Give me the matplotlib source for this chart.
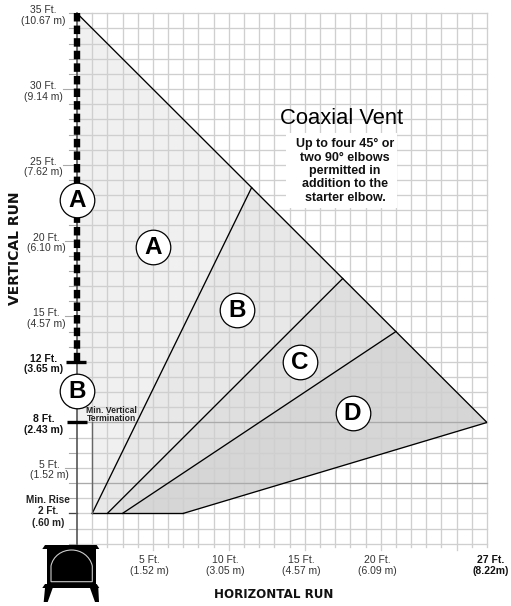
import matplotlib
matplotlib.use('Agg')
import matplotlib.pyplot as plt
from matplotlib.patches import Polygon, PathPatch
from matplotlib.path import Path
from matplotlib.transforms import Affine2D

plt.rcParams['font.family'] = ['Liberation Sans', 'DejaVu Sans']

W, H = 511, 606
X0, X27 = 77, 487
Y0, Y35 = 543.7, 13.3

# vent limits in feet: (horizontal, vertical)
apex = (0, 35)
corner_ab = (11.5, 23.5)
corner_bc = (17.5, 17.5)
corner_cd = (21, 14)
corner_d = (27, 8)
start_a = (1, 2)
start_b = (2, 2)
start_c = (3, 2)
start_d = (7, 2)
min_term = (1, 8)

fills = ['#f0f0f0', '#e8e8e8', '#dfdfdf', '#d6d6d6']

# grid value, feet text, metres text, bold, pixel shift of the text from the axis
y_labels = [(35, '35 Ft.', '(10.67 m)', 0, -34), (30, '30 Ft.', '(9.14 m)', 0, -34), (25, '25 Ft.', '(7.62 m)', 0, -34),
            (20, '20 Ft.', '(6.10 m)', 0, -31), (15, '15 Ft.', '(4.57 m)', 0, -31), (12, '12 Ft.', '(3.65 m)', 1, -33),
            (8, '8 Ft.', '(2.43 m)', 1, -33), (5, '5 Ft.', '(1.52 m)', 0, -28)]
x_labels = [(5, '5 Ft.', '(1.52 m)', 0), (10, '10 Ft.', '(3.05 m)', 0), (15, '15 Ft.', '(4.57 m)', 0),
            (20, '20 Ft.', '(6.09 m)', 0), (27, '27 Ft.', '(8.22m)', 1)]
badges = [('A', 0, 22.7), ('B', 0, 10.1), ('A', 5, 19.6), ('B', 10.55, 15.4), ('C', 14.7, 12), ('D', 18.15, 8.63)]
rise_labels = [('Min. Rise', 13), ('2 Ft.', 2), ('(.60 m)', -10)]
note = 'Up to four 45° or\ntwo 90° elbows\npermitted in\naddition to the\nstarter elbow.'

fig = plt.figure(figsize=(W / 100, H / 100), dpi=100)
ax = fig.add_axes([X0 / W, 1 - Y0 / H, (X27 - X0) / W, (Y0 - Y35) / H])
ax.set_xlim(0, 27)
ax.set_ylim(0, 35)
ax.axis('off')

# pixel coordinates, only for the stove and other decoration
px = Affine2D().scale(1, -1).translate(0, H)


def label(x, y, s, dx, dy, size=7.5, bold=False, color='#333333', z=7):
    ax.annotate(s, (x, y), xytext=(dx, dy), textcoords='offset pixels', fontsize=size,
                fontweight='bold' if bold else 'normal', color=color, ha='center', va='center',
                annotation_clip=False, zorder=z)


# vent regions, under the grid
ax.add_patch(Polygon([apex, corner_ab, start_a, min_term, (0, 8)], fc=fills[0], ec='none', zorder=0.5))
ax.add_patch(Polygon([corner_ab, corner_bc, start_b, start_a], fc=fills[1], ec='none', zorder=0.5))
ax.add_patch(Polygon([corner_bc, corner_cd, start_c, start_b], fc=fills[2], ec='none', zorder=0.5))
ax.add_patch(Polygon([corner_cd, corner_d, start_d, start_c], fc=fills[3], ec='none', zorder=0.5))

# grid
for v in range(1, 28):
    ax.plot([v, v], [-0.25 if v % 5 else -0.42, 35], color='#cfcfcf', lw=0.95, zorder=1, clip_on=False)
for v in range(0, 36):
    c = '#aaaaaa' if v in (4, 8) else '#cfcfcf'
    ax.plot([0, 27], [v, v], color=c, lw=0.95, zorder=1, clip_on=False)
    left = -0.55
    if v % 5 == 0 and v not in (0, 35):
        left = -0.9 if v >= 25 else -0.8
    ax.plot([left, 0], [v, v], color='#aaaaaa', lw=0.8, zorder=1, clip_on=False)

# white box behind the note
ax.fill_between([13.76, 21.07], 22.16, 27.1, color='white', lw=0, zorder=2)

# boundaries
ax.plot([apex[0], corner_d[0]], [apex[1], corner_d[1]], color='black', lw=0.95, zorder=3)
for a, b in [(corner_ab, start_a), (corner_bc, start_b), (corner_cd, start_c), (corner_d, start_d)]:
    ax.plot([a[0], b[0]], [a[1], b[1]], color='black', lw=0.95, zorder=3)
ax.plot([start_a[0], start_d[0]], [2, 2], color='black', lw=0.95, zorder=3)
ax.plot([1, 1], [2, 8], color='#666666', lw=1.0, zorder=3)
ax.plot([-0.5, 0], [2, 2], color='#444444', lw=0.9, zorder=3, clip_on=False)

# vertical run
ax.plot([0, 0], [0, 35], color='#555555', lw=1.2, zorder=4, clip_on=False)
ax.plot([0, 0], [35, 12], color='black', lw=4.6, zorder=5, clip_on=False, dashes=(1.33, 0.64), dash_capstyle='butt')
ax.plot([-0.75, 0.62], [12, 12], color='black', lw=2.4, zorder=5, clip_on=False, solid_capstyle='butt')
ax.plot([-0.68, 0.68], [8, 8], color='black', lw=2.4, zorder=5, clip_on=False, solid_capstyle='butt')

# badges
for name, bx, by in badges:
    ax.scatter([bx], [by], s=620, fc='white', ec='black', lw=0.9, zorder=6, clip_on=False)
    ax.text(bx, by - 0.03, name, fontsize=17.5, fontweight='bold', ha='center', va='center', zorder=7)

# axis labels
for v, a, b, bold, dx in y_labels:
    c = '#111111' if bold else '#333333'
    label(0, v, a, dx, 3, bold=bold, color=c)
    label(0, v, b, dx, -7.5, bold=bold, color=c)
for v, a, b, bold in x_labels:
    c = '#111111' if bold else '#333333'
    dx = 4 if v == 27 else -3.5
    label(v, 0, a, dx, -16.5, bold=bold, color=c)
    label(v, 0, b, dx, -27.5, bold=bold, color=c)

for s, dy in rise_labels:
    label(0, 2, s, -29, dy, size=7.2, bold=True, color='#222222')
label(1, 8, 'Min. Vertical', 19, 12, size=6.2, bold=True, color='#222222', z=5)
label(1, 8, 'Termination', 19, 4, size=6.2, bold=True, color='#222222', z=5)

fig.text(15 / W, 1 - 248 / H, 'VERTICAL RUN', rotation=90, fontsize=10, fontweight='bold',
         family='DejaVu Sans', color='#111111', ha='center', va='center')
fig.text(273.5 / W, 1 - 595 / H, 'HORIZONTAL RUN', fontsize=8.6, fontweight='bold',
         family='DejaVu Sans', color='#111111', ha='center', va='center')

fig.text(341.7 / W, 1 - 119 / H, 'Coaxial Vent', fontsize=15.8, ha='center', va='center', zorder=7)
fig.text(345 / W, 1 - 171 / H, note, fontsize=9, fontweight='bold', color='#111111', ha='center', va='center',
         linespacing=1.14, zorder=7)

# stove
stove = [
    [(45, 545), (96.7, 545), (99.3, 549), (42.3, 549)],
    [(46.7, 549), (95.7, 549), (95.7, 584), (46.7, 584)],
    [(45, 584), (96.7, 584), (99.3, 588), (42.3, 588)],
    [(45, 588), (52.7, 588), (47.7, 602), (43.7, 602)],
    [(90, 588), (98.3, 588), (99, 602), (95, 602)],
]
for pts in stove:
    fig.add_artist(Polygon(pts, fc='black', ec='none', transform=px, zorder=8))
codes = [Path.MOVETO, Path.LINETO, Path.CURVE4, Path.CURVE4, Path.CURVE4, Path.CURVE4, Path.CURVE4, Path.CURVE4,
         Path.LINETO, Path.CLOSEPOLY]
arch = Path([(51, 581.7), (51, 566), (53, 556), (62, 550), (71.6, 550), (81, 550), (90, 556), (92.3, 566),
             (92.3, 581.7), (51, 581.7)], codes)
fig.add_artist(PathPatch(arch, fc='black', ec='#cccccc', lw=0.8, transform=px, zorder=9))

fig.savefig('out.png', dpi=100, facecolor='white')
